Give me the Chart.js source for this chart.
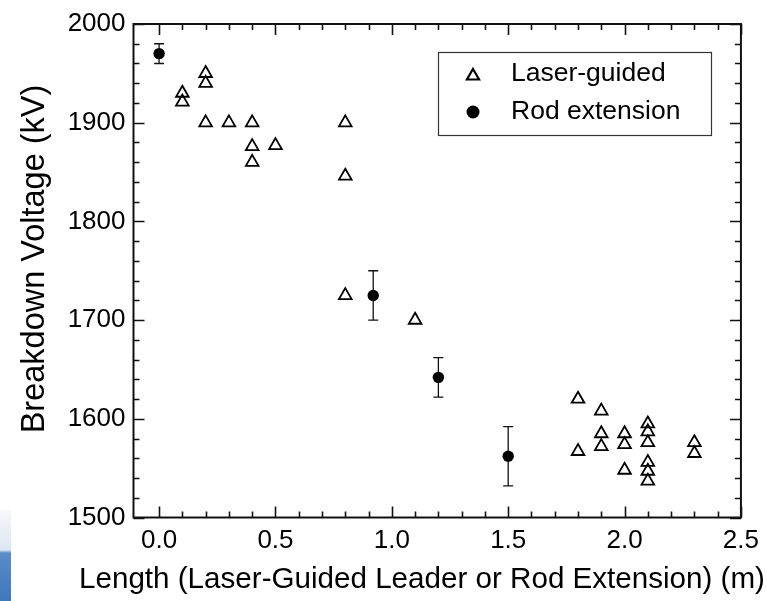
<!DOCTYPE html>
<html><head><meta charset="utf-8">
<style>
html,body{margin:0;padding:0;background:#fff;overflow:hidden}
#wrap{position:relative;width:767px;height:601px}
#scanEdge{position:absolute;left:0;top:510px;width:11px;height:91px;background:linear-gradient(to bottom,#f6f8fb 0px,#dde6f1 40px,#5a8cc8 43px,#3f78bd 91px)}
</style>
<script src="https://cdn.jsdelivr.net/npm/chart.js@4/dist/chart.umd.min.js"></script>
</head><body>
<div id="wrap"><canvas id="c" width="767" height="601"></canvas><div id="scanEdge"></div></div>
<script>
// ---- data ----
const laserX = [0.1, 0.1, 0.2, 0.2, 0.2, 0.3, 0.4, 0.4, 0.4, 0.5, 0.8, 0.8, 0.8, 1.1,
                1.8, 1.8, 1.9, 1.9, 1.9, 2.0, 2.0, 2.0, 2.1, 2.1, 2.1, 2.1, 2.1, 2.1, 2.3, 2.3];
const laserY = [1930, 1921, 1950, 1940, 1900, 1900, 1900, 1876, 1860, 1877, 1900, 1846, 1725, 1700,
                1620, 1567, 1608, 1585, 1572, 1585, 1574, 1548, 1595, 1587, 1576, 1556, 1547, 1537, 1576, 1565];
const rodX = [0.0, 0.92, 1.2, 1.5];
const rodY = [1970, 1725, 1642, 1562];
const rodErr = [10, 25, 20, 30];
const xTicks = [0.0, 0.5, 1.0, 1.5, 2.0, 2.5];
const yTicks = [1500, 1600, 1700, 1800, 1900, 2000];
const xMinorStep = 0.1;
const yMinorStep = 20;
const seriesNames = ['Laser-guided', 'Rod extension'];
const xTitle = 'Length (Laser-Guided Leader or Rod Extension) (m)';
const yTitle = 'Breakdown Voltage (kV)';

const FONT_R = "'Liberation Sans', Arial, sans-serif";

const laserData = laserX.map((x, i) => ({x, y: laserY[i]}));
const rodData = rodX.map((x, i) => ({x, y: rodY[i]}));

const errorBars = {
  id: 'errorBars',
  afterDatasetsDraw(chart) {
    const {ctx, scales: {x, y}} = chart;
    ctx.save();
    ctx.strokeStyle = '#111';
    ctx.lineWidth = 1.3;
    rodX.forEach((xv, i) => {
      const px = x.getPixelForValue(xv);
      const pTop = y.getPixelForValue(rodY[i] + rodErr[i]);
      const pBot = y.getPixelForValue(rodY[i] - rodErr[i]);
      ctx.beginPath();
      ctx.moveTo(px, pTop); ctx.lineTo(px, pBot);
      ctx.moveTo(px - 5, pTop); ctx.lineTo(px + 5, pTop);
      ctx.moveTo(px - 5, pBot); ctx.lineTo(px + 5, pBot);
      ctx.stroke();
    });
    ctx.restore();
  }
};

const frameTicks = {
  id: 'frameTicks',
  afterDraw(chart) {
    const {ctx, chartArea: a, scales: {x, y}} = chart;
    ctx.save();
    ctx.strokeStyle = '#111';
    ctx.lineWidth = 1.6;
    const near = (v, arr) => arr.some(t => Math.abs(t - v) < 1e-6);
    const x0 = xTicks[0], x1 = xTicks[xTicks.length - 1];
    for (let k = 0; x0 + k * xMinorStep <= x1 + 1e-9; k++) {
      const v = +(x0 + k * xMinorStep).toFixed(6);
      const px = Math.round(x.getPixelForValue(v)) + 0.5;
      const len = near(v, xTicks) ? 11 : 6;
      ctx.beginPath();
      ctx.moveTo(px, a.bottom); ctx.lineTo(px, a.bottom - len);
      ctx.moveTo(px, a.top); ctx.lineTo(px, a.top + len);
      ctx.stroke();
    }
    const y0 = yTicks[0], y1 = yTicks[yTicks.length - 1];
    for (let v = y0; v <= y1; v += yMinorStep) {
      const py = Math.round(y.getPixelForValue(v)) + 0.5;
      const len = near(v, yTicks) ? 11 : 6;
      ctx.beginPath();
      ctx.moveTo(a.left, py); ctx.lineTo(a.left + len, py);
      ctx.moveTo(a.right, py); ctx.lineTo(a.right - len, py);
      ctx.stroke();
    }
    ctx.lineWidth = 2;
    ctx.strokeRect(a.left, a.top, a.right - a.left, a.bottom - a.top);

    // legend
    ctx.lineWidth = 1.2;
    ctx.strokeStyle = '#333';
    ctx.strokeRect(438.5, 52.5, 273, 83);
    ctx.fillStyle = '#000';
    ctx.font = "26.5px " + FONT_R;
    ctx.textBaseline = 'middle';
    ctx.textAlign = 'left';
    ctx.fillText(seriesNames[0], 511, 74);
    ctx.fillText(seriesNames[1], 511, 112);
    ctx.strokeStyle = '#000';
    ctx.fillStyle = '#fff';
    ctx.lineWidth = 2.2;
    Chart.helpers.drawPoint(ctx, {pointStyle: 'triangle', radius: 7, borderWidth: 2.2}, 473, 76);
    ctx.fillStyle = '#000';
    Chart.helpers.drawPoint(ctx, {pointStyle: 'circle', radius: 6.5, borderWidth: 0}, 473, 112);

    // axis titles
    ctx.fillStyle = '#000';
    ctx.font = "29.6px " + FONT_R;
    ctx.textAlign = 'center';
    ctx.textBaseline = 'middle';
    ctx.fillText(xTitle, 422, 580);
    ctx.save();
    ctx.translate(35, 259);
    ctx.rotate(-Math.PI / 2);
    ctx.font = "32.5px " + FONT_R;
    ctx.fillText(yTitle, 0, 0);
    ctx.restore();
    ctx.restore();
  }
};

new Chart(document.getElementById('c'), {
  type: 'scatter',
  data: {
    datasets: [
      {
        label: seriesNames[0], data: laserData,
        pointStyle: 'triangle', pointRadius: 7.3, pointHoverRadius: 7.3,
        borderColor: '#000', backgroundColor: 'rgba(255,255,255,0)', borderWidth: 1.8
      },
      {
        label: seriesNames[1], data: rodData,
        pointStyle: 'circle', pointRadius: 5.7, pointHoverRadius: 5.7,
        borderColor: '#000', backgroundColor: '#000', borderWidth: 0
      }
    ]
  },
  options: {
    responsive: false,
    animation: false,
    events: [],
    layout: {padding: {left: 0, top: 24, right: 24.5, bottom: 0}},
    plugins: {legend: {display: false}, tooltip: {enabled: false}},
    scales: {
      x: {
        type: 'linear', min: -0.11, max: 2.5,
        afterBuildTicks: s => { s.ticks = xTicks.map(v => ({value: v})); },
        afterFit: s => { s.height = 83.5; },
        grid: {display: false, drawTicks: false},
        border: {display: false},
        ticks: {
          padding: 8, color: '#000', maxRotation: 0, autoSkip: false,
          font: {family: FONT_R, size: 26},
          callback: v => Number(v).toFixed(1)
        },
        title: {display: false, text: xTitle}
      },
      y: {
        type: 'linear', min: 1500, max: 2000,
        afterBuildTicks: s => { s.ticks = yTicks.map(v => ({value: v})); },
        afterFit: s => { s.width = 133.5; },
        grid: {display: false, drawTicks: false},
        border: {display: false},
        ticks: {
          padding: 8, color: '#000', autoSkip: false,
          font: {family: FONT_R, size: 26},
          callback: v => String(v)
        },
        title: {display: false, text: yTitle}
      }
    }
  },
  plugins: [errorBars, frameTicks]
});
</script>
</body></html>
